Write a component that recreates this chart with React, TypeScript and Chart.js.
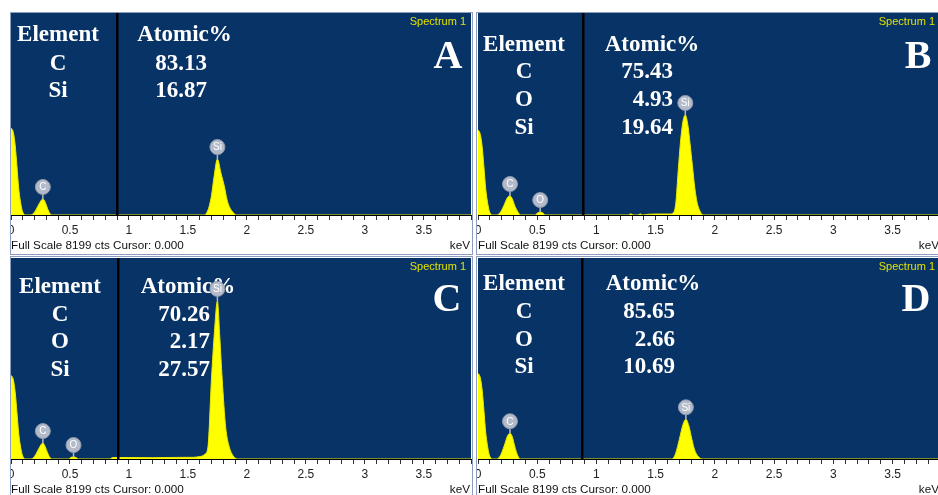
import React, { useEffect, useRef } from 'react';
import { Chart, registerables } from 'chart.js';

Chart.register(...registerables);

// ---------- shared axis / text values ----------
const FULL_SCALE_CTS = 8199;
const KEV_MIN = 0;
const KEV_MAX = 3.9;
const KEV_MINOR_STEP = 0.1;
const tickLabelKeV = [0, 0.5, 1, 1.5, 2, 2.5, 3, 3.5];
const tickLabelText = ['0', '0.5', '1', '1.5', '2', '2.5', '3', '3.5'];
const SPECTRUM_NAME = 'Spectrum 1';
const FOOTER_TEXT = 'Full Scale 8199 cts Cursor: 0.000';
const UNIT_TEXT = 'keV';
const HEADER_ELEMENT = 'Element';
const HEADER_ATOMIC = 'Atomic%';

// ---------- Panel A ----------
const energyA = [0, 0.01, 0.02, 0.035, 0.05, 0.065, 0.08, 0.095, 0.11, 0.12,
  0.17, 0.2, 0.23, 0.26, 0.27, 0.29, 0.31, 0.33, 0.35,
  1.64, 1.66, 1.68, 1.7, 1.72, 1.75, 1.78, 1.81, 1.83, 1.85, 1.88, 1.91, 3.9];
const countsA = [3530, 3480, 3350, 2850, 2000, 1100, 550, 180, 30, 0,
  0, 120, 380, 620, 650, 520, 260, 60, 0,
  0, 100, 350, 800, 1500, 2270, 1700, 1135, 650, 350, 120, 0, 0];
const elementsA = ['C', 'Si'];
const atomicA = ['83.13', '16.87'];
const peakLabelsA = ['C', 'Si'];
const peakKeVA = [0.27, 1.75];
const peakCtsA = [650, 2270];
const dividerKeVA = 0.9;

// ---------- Panel B ----------
const energyB = [0, 0.01, 0.02, 0.035, 0.05, 0.065, 0.08, 0.095, 0.11, 0.12,
  0.16, 0.19, 0.22, 0.25, 0.27, 0.29, 0.31, 0.34, 0.36,
  0.48, 0.505, 0.525, 0.545, 0.57,
  1.27, 1.29, 1.31, 1.35, 1.37, 1.39, 1.44, 1.55, 1.62,
  1.65, 1.67, 1.69, 1.71, 1.73, 1.75, 1.77, 1.79, 1.81, 1.83, 1.85, 1.87, 1.9, 3.9];
const countsB = [3450, 3400, 3260, 2780, 1950, 1070, 530, 170, 25, 0,
  0, 120, 400, 720, 770, 650, 380, 100, 0,
  0, 90, 120, 90, 0,
  0, 50, 0, 0, 45, 0, 30, 40, 40,
  100, 500, 1800, 3000, 3800, 4060, 3700, 2900, 2000, 1100, 500, 200, 0, 0];
const elementsB = ['C', 'O', 'Si'];
const atomicB = ['75.43', '4.93', '19.64'];
const peakLabelsB = ['C', 'O', 'Si'];
const peakKeVB = [0.27, 0.525, 1.75];
const peakCtsB = [770, 120, 4060];
const dividerKeVB = 0.89;

// ---------- Panel C ----------
const energyC = [0, 0.01, 0.02, 0.035, 0.05, 0.065, 0.08, 0.095, 0.11, 0.12,
  0.17, 0.2, 0.23, 0.26, 0.27, 0.29, 0.31, 0.33, 0.35,
  0.49, 0.51, 0.53, 0.55, 0.57,
  0.84, 0.86, 1.0, 1.2, 1.4, 1.55, 1.6, 1.62,
  1.645, 1.67, 1.7, 1.725, 1.75, 1.77, 1.79, 1.82, 1.85, 1.88, 1.92, 3.9];
const countsC = [3410, 3360, 3230, 2750, 1930, 1060, 530, 180, 30, 0,
  0, 110, 370, 620, 650, 500, 250, 60, 0,
  0, 70, 80, 60, 0,
  0, 60, 60, 55, 65, 70, 100, 120,
  200, 500, 3300, 5200, 6450, 5000, 3300, 1300, 500, 150, 0, 0];
const elementsC = ['C', 'O', 'Si'];
const atomicC = ['70.26', '2.17', '27.57'];
const peakLabelsC = ['C', 'O', 'Si'];
const peakKeVC = [0.27, 0.53, 1.75];
const peakCtsC = [650, 80, 6450];
const dividerKeVC = 0.905;

// ---------- Panel D ----------
const energyD = [0, 0.01, 0.02, 0.035, 0.05, 0.065, 0.08, 0.095, 0.11, 0.12,
  0.16, 0.19, 0.22, 0.25, 0.27, 0.29, 0.31, 0.33, 0.355,
  1.63, 1.65, 1.67, 1.7, 1.73, 1.755, 1.78, 1.805, 1.83, 1.86, 1.89, 3.9];
const countsD = [3490, 3440, 3300, 2810, 1980, 1090, 540, 175, 30, 0,
  0, 150, 520, 950, 1050, 900, 520, 200, 0,
  0, 40, 250, 810, 1400, 1620, 1350, 810, 350, 100, 0, 0];
const elementsD = ['C', 'O', 'Si'];
const atomicD = ['85.65', '2.66', '10.69'];
const peakLabelsD = ['C', 'Si'];
const peakKeVD = [0.27, 1.755];
const peakCtsD = [1050, 1620];
const dividerKeVD = 0.88;

const panelLetters = ['A', 'B', 'C', 'D'];

// ---------- layout (positions / sizes only) ----------
const frameBoxes = [
  { left: 10, top: 12, width: 463, height: 243 },
  { left: 476, top: 12, width: 470, height: 243 },
  { left: 10, top: 256, width: 463, height: 250 },
  { left: 476, top: 256, width: 470, height: 250 },
];
const canvasBoxes = [
  { left: 3, top: 12, width: 472, height: 239, padTop: 1 },
  { left: 470, top: 12, width: 474, height: 239, padTop: 1 },
  { left: 3, top: 256, width: 472, height: 239, padTop: 2 },
  { left: 470, top: 256, width: 474, height: 239, padTop: 2 },
];
const tableLayouts = [
  { elementX: 47, atomicX: 173.5, valueRight: 196, headerY: 20, rowY: [49, 76], letterX: 437, letterY: 42 },
  { elementX: 46, atomicX: 174, valueRight: 195, headerY: 30, rowY: [57, 85, 113], letterX: 440, letterY: 42 },
  { elementX: 49, atomicX: 177, valueRight: 199, headerY: 27, rowY: [55, 82, 110], letterX: 436, letterY: 40 },
  { elementX: 46, atomicX: 175, valueRight: 197, headerY: 24, rowY: [52, 80, 107], letterX: 438, letterY: 40 },
];

const PLOT_BG = '#083366';

type PanelData = {
  energy: number[]; counts: number[]; elements: string[]; atomic: string[];
  peakLabels: string[]; peakKeV: number[]; peakCts: number[]; dividerKeV: number; letter: string;
};

const panels: PanelData[] = [
  { energy: energyA, counts: countsA, elements: elementsA, atomic: atomicA, peakLabels: peakLabelsA, peakKeV: peakKeVA, peakCts: peakCtsA, dividerKeV: dividerKeVA, letter: panelLetters[0] },
  { energy: energyB, counts: countsB, elements: elementsB, atomic: atomicB, peakLabels: peakLabelsB, peakKeV: peakKeVB, peakCts: peakCtsB, dividerKeV: dividerKeVB, letter: panelLetters[1] },
  { energy: energyC, counts: countsC, elements: elementsC, atomic: atomicC, peakLabels: peakLabelsC, peakKeV: peakKeVC, peakCts: peakCtsC, dividerKeV: dividerKeVC, letter: panelLetters[2] },
  { energy: energyD, counts: countsD, elements: elementsD, atomic: atomicD, peakLabels: peakLabelsD, peakKeV: peakKeVD, peakCts: peakCtsD, dividerKeV: dividerKeVD, letter: panelLetters[3] },
];

const SERIF = '"Liberation Serif", "Times New Roman", serif';
const SANS = '"Liberation Sans", Arial, sans-serif';

const overlayPlugin = {
  id: 'edsOverlay',
  beforeDraw(chart: any, _args: any, opts: any) {
    const { ctx, chartArea: a } = chart;
    ctx.save();
    ctx.fillStyle = opts.background;
    ctx.fillRect(a.left, a.top, a.right - a.left, a.bottom - a.top);
    ctx.restore();
  },
  afterDatasetsDraw(chart: any, _args: any, opts: any) {
    const { ctx, chartArea: a, scales } = chart;
    const xs = scales.x;
    const ys = scales.y;
    const L = opts.layout;
    const d: PanelData = opts.panel;
    ctx.save();
    // divider line
    const dx = xs.getPixelForValue(d.dividerKeV);
    ctx.fillStyle = '#000';
    ctx.fillRect(Math.round(dx) - 1, a.top, 2.5, a.bottom - a.top);
    // table text
    const cap = 7.6;
    ctx.fillStyle = '#ffffff';
    ctx.font = 'bold 23px ' + SERIF;
    ctx.textBaseline = 'alphabetic';
    ctx.textAlign = 'center';
    ctx.fillText(HEADER_ELEMENT, a.left + L.elementX, a.top + L.headerY + cap);
    ctx.fillText(HEADER_ATOMIC, a.left + L.atomicX, a.top + L.headerY + cap);
    d.elements.forEach((el, i) => ctx.fillText(el, a.left + L.elementX, a.top + L.rowY[i] + cap));
    ctx.textAlign = 'right';
    d.atomic.forEach((v, i) => ctx.fillText(v, a.left + L.valueRight, a.top + L.rowY[i] + cap));
    // panel letter
    ctx.textAlign = 'center';
    ctx.font = 'bold 40px ' + SERIF;
    ctx.fillText(d.letter, a.left + L.letterX, a.top + L.letterY + 13);
    // spectrum name
    ctx.font = '11px ' + SANS;
    ctx.fillStyle = '#e2e200';
    ctx.textAlign = 'right';
    ctx.textBaseline = 'middle';
    ctx.fillText(SPECTRUM_NAME, a.right - 5, a.top + 9);
    // peak markers
    d.peakLabels.forEach((lab, i) => {
      const px = xs.getPixelForValue(d.peakKeV[i]);
      const py = ys.getPixelForValue(d.peakCts[i]);
      const cy = py - 12;
      ctx.strokeStyle = '#b3bbca';
      ctx.lineWidth = 1.5;
      ctx.beginPath();
      ctx.moveTo(px, cy + 6);
      ctx.lineTo(px, py);
      ctx.stroke();
      ctx.beginPath();
      ctx.arc(px, cy, 7.5, 0, Math.PI * 2);
      ctx.fillStyle = '#b3bbca';
      ctx.fill();
      ctx.strokeStyle = '#8f99ad';
      ctx.lineWidth = 1;
      ctx.stroke();
      ctx.fillStyle = '#ffffff';
      ctx.font = '10px ' + SANS;
      ctx.textAlign = 'center';
      ctx.textBaseline = 'middle';
      ctx.fillText(lab, px, cy + 0.5);
    });
    ctx.restore();
  },
  afterDraw(chart: any) {
    const { ctx, chartArea: a } = chart;
    ctx.save();
    ctx.font = '11.7px ' + SANS;
    ctx.fillStyle = '#111';
    ctx.textBaseline = 'middle';
    ctx.textAlign = 'left';
    ctx.fillText(FOOTER_TEXT, a.left, a.bottom + 31);
    ctx.textAlign = 'right';
    ctx.fillText(UNIT_TEXT, a.right - 1, a.bottom + 31);
    ctx.restore();
  },
};

function SpectrumPanel({ panel, frame, box, layout }: { panel: PanelData; frame: any; box: any; layout: any }) {
  const ref = useRef<HTMLCanvasElement>(null);
  useEffect(() => {
    const chart = new Chart(ref.current as HTMLCanvasElement, {
      type: 'line',
      data: {
        datasets: [{
          data: panel.energy.map((x, i) => ({ x, y: panel.counts[i] })),
          borderColor: '#e8e800',
          borderWidth: 1,
          backgroundColor: '#ffff00',
          fill: 'origin',
          pointRadius: 0,
          cubicInterpolationMode: 'monotone',
        }],
      },
      options: {
        animation: false,
        responsive: false,
        events: [],
        layout: { padding: { left: 8, right: 4, top: box.padTop, bottom: 0 } },
        plugins: {
          legend: { display: false },
          tooltip: { enabled: false },
          edsOverlay: { background: PLOT_BG, layout, panel },
        } as any,
        scales: {
          x: {
            type: 'linear',
            min: KEV_MIN,
            max: KEV_MAX,
            afterFit: (s: any) => { s.height = 36; },
            ticks: {
              stepSize: KEV_MINOR_STEP,
              autoSkip: false,
              includeBounds: false,
              maxRotation: 0,
              minRotation: 0,
              padding: 3,
              color: '#222',
              font: { family: 'Liberation Sans', size: 12 },
              callback: (value: any) => {
                const idx = tickLabelKeV.findIndex((v) => Math.abs(v - Number(value)) < 1e-6);
                return idx >= 0 ? tickLabelText[idx] : '';
              },
            },
            grid: { display: true, drawOnChartArea: false, drawTicks: true, tickLength: 5, color: '#333', tickColor: '#333' },
            border: { display: true, color: '#000', width: 1 },
          },
          y: {
            type: 'linear',
            display: false,
            min: 0,
            max: FULL_SCALE_CTS,
          },
        },
      },
      plugins: [overlayPlugin],
    } as any);
    return () => chart.destroy();
  }, []);
  return (
    <div style={{
      position: 'absolute', left: frame.left, top: frame.top, width: frame.width, height: frame.height,
      boxSizing: 'border-box', border: '1px solid #8d9dc0', overflow: 'hidden', background: '#fff',
    }}>
      <canvas
        ref={ref}
        width={box.width}
        height={box.height}
        style={{
          position: 'absolute', left: box.left - frame.left - 1, top: box.top - frame.top - 1,
          width: box.width, height: box.height,
        }}
      />
    </div>
  );
}

export default function App() {
  return (
    <div style={{ position: 'absolute', left: 0, top: 0, width: 938, height: 495, background: '#fff', overflow: 'hidden' }}>
      {panels.map((p, i) => (
        <SpectrumPanel key={i} panel={p} frame={frameBoxes[i]} box={canvasBoxes[i]} layout={tableLayouts[i]} />
      ))}
    </div>
  );
}
